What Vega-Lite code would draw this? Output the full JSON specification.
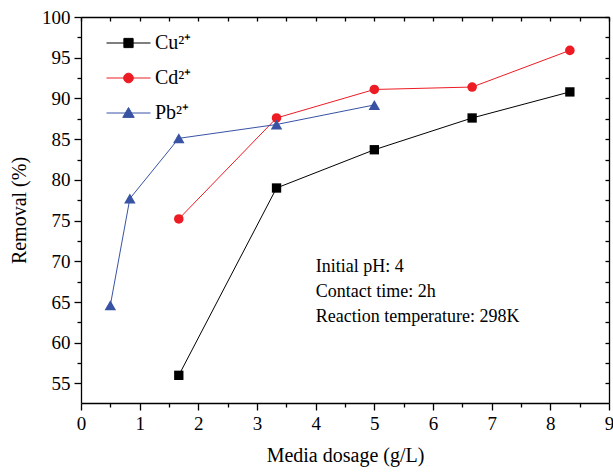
{
  "$schema": "https://vega.github.io/schema/vega-lite/v6.json",
  "width": 528,
  "height": 386,
  "autosize": {"type": "none"},
  "padding": {"left": 81, "top": 17, "right": 4, "bottom": 71},
  "background": "white",
  "config": {
    "view": {"stroke": null},
    "font": "Liberation Serif",
    "axis": {
      "grid": false,
      "domainColor": "#000000",
      "domainWidth": 1.3,
      "tickColor": "#000000",
      "tickWidth": 1.3,
      "labelColor": "#000000",
      "titleColor": "#000000",
      "labelFont": "Liberation Serif",
      "titleFont": "Liberation Serif",
      "labelFontSize": 19,
      "titleFontSize": 20,
      "titleFontWeight": "normal",
      "labelOverlap": false,
      "labelFlush": false,
      "labelBound": false
    },
    "legend": {
      "orient": "none",
      "legendX": 25,
      "legendY": 3.5,
      "padding": 0,
      "symbolSize": 1936,
      "symbolStrokeWidth": 1,
      "symbolOpacity": 1,
      "labelFont": "Liberation Serif",
      "labelFontSize": 20,
      "labelColor": "#000000",
      "labelOffset": 4,
      "labelLimit": 0,
      "rowPadding": 2
    }
  },
  "datasets": {
    "removal": [
      {"ion": "Cu²⁺", "dosage": 1.667, "removal": 56.0},
      {"ion": "Cu²⁺", "dosage": 3.333, "removal": 79.0},
      {"ion": "Cu²⁺", "dosage": 5.0, "removal": 83.7},
      {"ion": "Cu²⁺", "dosage": 6.667, "removal": 87.6},
      {"ion": "Cu²⁺", "dosage": 8.333, "removal": 90.8},
      {"ion": "Cd²⁺", "dosage": 1.667, "removal": 75.2},
      {"ion": "Cd²⁺", "dosage": 3.333, "removal": 87.6},
      {"ion": "Cd²⁺", "dosage": 5.0, "removal": 91.1},
      {"ion": "Cd²⁺", "dosage": 6.667, "removal": 91.4},
      {"ion": "Cd²⁺", "dosage": 8.333, "removal": 95.9},
      {"ion": "Pb²⁺", "dosage": 0.5, "removal": 64.6},
      {"ion": "Pb²⁺", "dosage": 0.833, "removal": 77.7},
      {"ion": "Pb²⁺", "dosage": 1.667, "removal": 85.1},
      {"ion": "Pb²⁺", "dosage": 3.333, "removal": 86.8},
      {"ion": "Pb²⁺", "dosage": 5.0, "removal": 89.2}
    ]
  },
  "data": {"name": "removal"},
  "layer": [
    {
      "transform": [{"filter": "datum.dosage < 0"}],
      "mark": {"type": "point", "filled": true, "strokeWidth": 1, "opacity": 1},
      "encoding": {
        "x": {"field": "dosage", "type": "quantitative", "axis": null},
        "y": {"field": "removal", "type": "quantitative", "axis": null},
        "color": {
          "field": "ion", "type": "nominal",
          "scale": {"domain": ["Cu²⁺", "Cd²⁺", "Pb²⁺"], "range": ["#000000", "#ED1C24", "#3953A4"]},
          "legend": {"title": null}
        },
        "stroke": {
          "field": "ion", "type": "nominal",
          "scale": {"domain": ["Cu²⁺", "Cd²⁺", "Pb²⁺"], "range": ["#000000", "#ED1C24", "#3953A4"]},
          "legend": {"title": null}
        },
        "shape": {
          "field": "ion", "type": "nominal",
          "scale": {
            "domain": ["Cu²⁺", "Cd²⁺", "Pb²⁺"],
            "range": [
              "M-1,0H1M-0.21,-0.21H0.21V0.21H-0.21Z",
              "M-1,0H1M0.22,0A0.22,0.22 0 1,1 -0.22,0A0.22,0.22 0 1,1 0.22,0Z",
              "M-1,0H1M0,-0.25L0.26,0.2H-0.26Z"
            ]
          },
          "legend": {"title": null}
        }
      }
    },
    {
      "mark": {"type": "line", "strokeWidth": 1},
      "encoding": {
        "x": {
          "field": "dosage", "type": "quantitative",
          "scale": {"domain": [0, 9], "nice": false, "zero": false},
          "axis": {
            "orient": "bottom",
            "values": [0, 1, 2, 3, 4, 5, 6, 7, 8, 9],
            "format": "d",
            "tickSize": 7,
            "labelPadding": 4,
            "title": "Media dosage (g/L)",
            "titlePadding": 12
          }
        },
        "y": {
          "field": "removal", "type": "quantitative",
          "scale": {"domain": [52.6, 100], "nice": false, "zero": false},
          "axis": {
            "orient": "left",
            "values": [55, 60, 65, 70, 75, 80, 85, 90, 95, 100],
            "format": "d",
            "tickSize": 7,
            "labelPadding": 4,
            "title": "Removal (%)",
            "titlePadding": 12
          }
        },
        "color": {"field": "ion", "type": "nominal", "legend": {"title": null}}
      }
    },
    {
      "transform": [{"filter": {"field": "ion", "equal": "Cu²⁺"}}],
      "mark": {"type": "point", "shape": "square", "filled": true, "opacity": 1, "size": 87},
      "encoding": {
        "x": {
          "field": "dosage", "type": "quantitative",
          "axis": {
            "orient": "bottom",
            "values": [0.5, 1.5, 2.5, 3.5, 4.5, 5.5, 6.5, 7.5, 8.5],
            "tickSize": 4,
            "labels": false,
            "domain": false,
            "title": null
          }
        },
        "y": {
          "field": "removal", "type": "quantitative",
          "axis": {
            "orient": "left",
            "values": [57.5, 62.5, 67.5, 72.5, 77.5, 82.5, 87.5, 92.5, 97.5],
            "tickSize": 4,
            "labels": false,
            "domain": false,
            "title": null
          }
        },
        "color": {"field": "ion", "type": "nominal", "legend": {"title": null}}
      }
    },
    {
      "transform": [{"filter": {"field": "ion", "equal": "Cd²⁺"}}],
      "mark": {"type": "point", "shape": "circle", "filled": true, "opacity": 1, "size": 92},
      "encoding": {
        "x": {"field": "dosage", "type": "quantitative", "axis": null},
        "y": {"field": "removal", "type": "quantitative", "axis": null},
        "color": {"field": "ion", "type": "nominal", "legend": {"title": null}}
      }
    },
    {
      "transform": [{"filter": {"field": "ion", "equal": "Pb²⁺"}}],
      "mark": {"type": "point", "shape": "triangle-up", "filled": true, "opacity": 1, "size": 132},
      "encoding": {
        "x": {"field": "dosage", "type": "quantitative", "axis": null},
        "y": {"field": "removal", "type": "quantitative", "axis": null},
        "color": {"field": "ion", "type": "nominal", "legend": {"title": null}}
      }
    },
    {
      "data": {"values": [{"note": "conditions"}]},
      "mark": {
        "type": "text",
        "align": "left",
        "baseline": "alphabetic",
        "font": "Liberation Serif",
        "fontSize": 18,
        "lineHeight": 25,
        "color": "#000000",
        "text": ["Initial pH: 4", "Contact time: 2h", "Reaction temperature: 298K"]
      },
      "encoding": {
        "x": {
          "datum": 4.0, "type": "quantitative",
          "axis": {
            "orient": "top",
            "values": [0, 0.5, 1, 1.5, 2, 2.5, 3, 3.5, 4, 4.5, 5, 5.5, 6, 6.5, 7, 7.5, 8, 8.5, 9],
            "tickSize": -4,
            "labels": false,
            "title": null
          }
        },
        "y": {
          "datum": 68.7, "type": "quantitative",
          "axis": {
            "orient": "right",
            "values": [55, 57.5, 60, 62.5, 65, 67.5, 70, 72.5, 75, 77.5, 80, 82.5, 85, 87.5, 90, 92.5, 95, 97.5, 100],
            "tickSize": -4,
            "labels": false,
            "title": null
          }
        }
      }
    }
  ],
  "resolve": {"axis": {"x": "independent", "y": "independent"}}
}
